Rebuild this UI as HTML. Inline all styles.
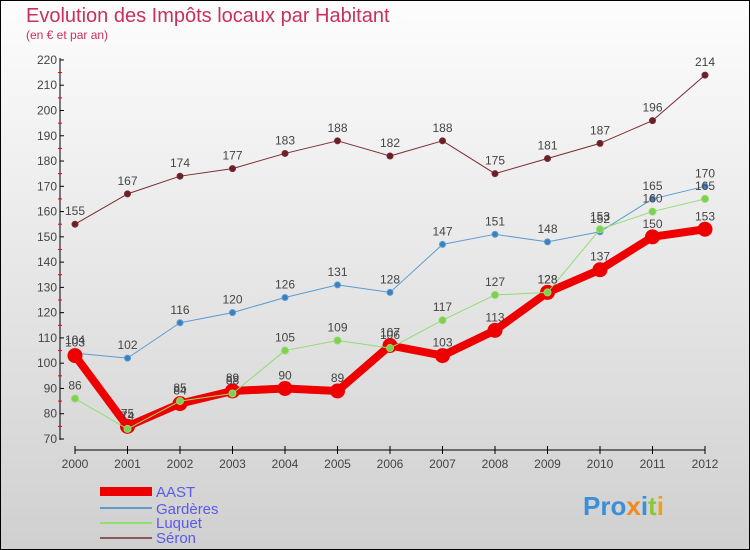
<!DOCTYPE html>
<html><head><meta charset="utf-8"><style>
body{margin:0;width:750px;height:550px;overflow:hidden;font-family:"Liberation Sans",sans-serif}
#c{position:absolute;left:0;top:0;width:748px;height:548px;border:1px solid #000;background:linear-gradient(#fdfdfd,#d0d0d0)}
</style></head><body>
<div id="c">
<svg id="s" width="750" height="550" style="position:absolute;left:-1px;top:-1px">
<text x="26" y="22" font-size="20" fill="#c8305e">Evolution des Impôts locaux par Habitant</text>
<text x="26" y="39" font-size="12" fill="#c8305e">(en € et par an)</text>
<g id="axes"></g><g id="series"></g>
<g>
<rect x="100" y="487" width="52" height="9" fill="#e00"/>
<text x="156" y="497" font-size="15" fill="#5a5ae8">AAST</text>
<line x1="100" y1="508" x2="152" y2="508" stroke="#5b9bd0" stroke-width="2"/>
<text x="156" y="514" font-size="15" fill="#5a5ae8">Gardères</text>
<line x1="100" y1="523" x2="152" y2="523" stroke="#90dd70" stroke-width="2"/>
<text x="156" y="528" font-size="15" fill="#5a5ae8">Luquet</text>
<line x1="100" y1="538" x2="152" y2="538" stroke="#8a5a5a" stroke-width="2"/>
<text x="156" y="543" font-size="15" fill="#5a5ae8">Séron</text>
</g>
<text x="583" y="515" font-size="26" font-weight="bold"><tspan fill="#3a8fd8">Pro</tspan><tspan fill="#f08a20">x</tspan><tspan fill="#3a8fd8">i</tspan><tspan fill="#8ac83a">t</tspan><tspan fill="#f0a020">i</tspan></text>
</svg></div>
<script>
const years=["2000","2001","2002","2003","2004","2005","2006","2007","2008","2009","2010","2011","2012"];
const yTicks=[70,80,90,100,110,120,130,140,150,160,170,180,190,200,210,220];
const seron=[155,167,174,177,183,188,182,188,175,181,187,196,214];
const garderes=[104,102,116,120,126,131,128,147,151,148,152,165,170];
const luquet=[86,74,85,88,105,109,106,117,127,128,153,160,165];
const aast=[103,75,84,89,90,89,107,103,113,128,137,150,153];
const NS="http://www.w3.org/2000/svg";
const xs=i=>75+i*52.5;
const ys=v=>439-(v-70)*25.27/10;
function mk(p,t,a){const e=document.createElementNS(NS,t);for(const k in a)e.setAttribute(k,a[k]);p.appendChild(e);return e;}
const ax=document.getElementById('axes'),sg=document.getElementById('series');
let l=mk(ax,'line',{x1:60,y1:58,x2:60,y2:440,stroke:'#000'});


l=mk(ax,'line',{x1:75,y1:450,x2:705,y2:450,stroke:'#000'});


yTicks.forEach((v,i)=>{
 mk(ax,'line',{x1:60,y1:ys(v),x2:64,y2:ys(v),stroke:'#000'});
 if(i<yTicks.length-1)mk(ax,'line',{x1:58,y1:ys(v+5),x2:62,y2:ys(v+5),stroke:'#e00'});
 const t=mk(ax,'text',{x:57,y:ys(v)+4,'font-size':12,fill:'#444','text-anchor':'end'});
 t.textContent=v;
 
 
});
years.forEach((y,i)=>{
 mk(ax,'line',{x1:xs(i),y1:446,x2:xs(i),y2:454,stroke:'#000'});
 const t=mk(ax,'text',{x:xs(i),y:468,'font-size':12,fill:'#444','text-anchor':'middle'});
 t.textContent=y;
 
 
});
function series(name,data,color,w,r,dot){
 const g=mk(sg,'g',{});
 
 
 const pl=mk(g,'polyline',{points:data.map((v,i)=>xs(i)+','+ys(v)).join(' '),fill:'none',stroke:color,'stroke-width':w,'stroke-linejoin':'round'});
 
 
 data.forEach((v,i)=>{
  const c=mk(g,'circle',{cx:xs(i),cy:ys(v),r:r,fill:dot,stroke:color,'stroke-width':1});
  
  
  const t=mk(g,'text',{x:xs(i),y:ys(v)-9,'font-size':12,fill:'#444','text-anchor':'middle'});
  t.textContent=v;
  
  
 });
}
series('seron',seron,'#7a2a30',1,3,'#6a2028');
series('garderes',garderes,'#5b9bd0',1,3,'#3a80c0');
series('aast',aast,'#e00',8,7,'#e00');
series('luquet',luquet,'#90dd70',1,3.5,'#80d050');
</script></body></html>
